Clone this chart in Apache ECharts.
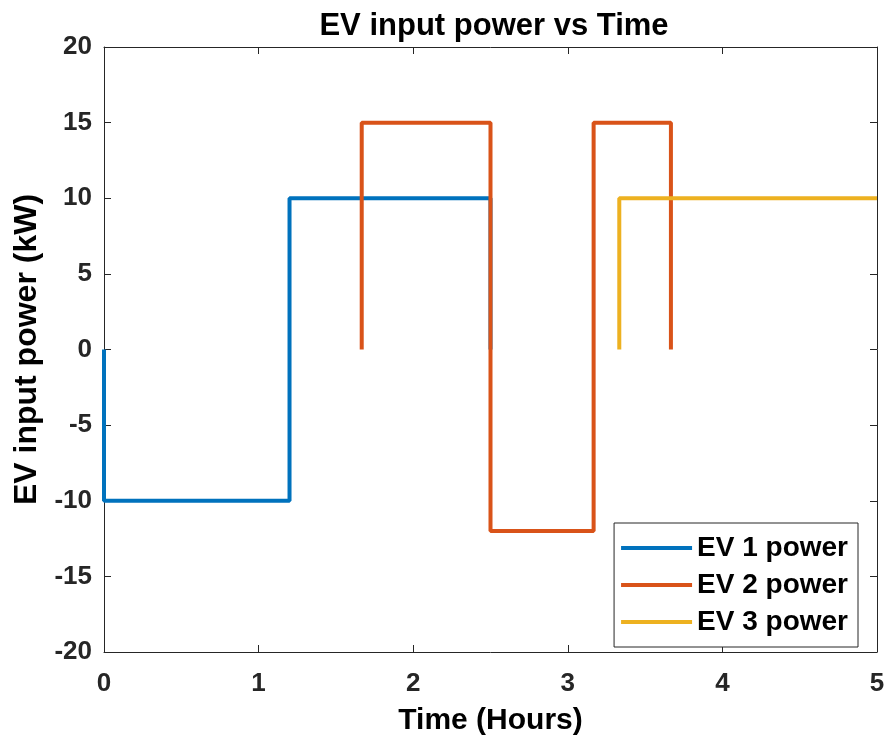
<!DOCTYPE html>
<html><head><meta charset="utf-8">
<script src="https://cdn.jsdelivr.net/npm/echarts@6/dist/echarts.min.js"></script>
<style>html,body{margin:0;padding:0;background:#fff}#c{width:890px;height:745px}</style>
</head><body><div id="c"></div>
<script>
const seriesNames = ['EV 1 power', 'EV 2 power', 'EV 3 power'];
const ev1 = [[0,0],[0,-10],[1.2,-10],[1.2,10],[2.5,10],[2.5,0]];
const ev2 = [[1.667,0],[1.667,15],[2.5,15],[2.5,-12],[3.167,-12],[3.167,15],[3.667,15],[3.667,0]];
const ev3 = [[3.333,0],[3.333,10],[5,10]];
const colors = ['#0072BD', '#D95319', '#EDB120'];
const xTicks = [0,1,2,3,4,5];
const yTicks = [-20,-15,-10,-5,0,5,10,15,20];

const font = '"Liberation Sans", Arial, Helvetica, sans-serif';
const axisCol = '#262626';
const chart = echarts.init(document.getElementById('c'), null, {renderer:'canvas'});
const baseX = {type:'value', min:xTicks[0], max:xTicks[xTicks.length-1], interval:1,
  axisLine:{show:true, onZero:false, lineStyle:{color:axisCol, width:1}},
  axisTick:{show:true, inside:true, length:7, lineStyle:{color:axisCol}},
  splitLine:{show:false}};
const baseY = {type:'value', min:yTicks[0], max:yTicks[yTicks.length-1], interval:5,
  axisLine:{show:true, onZero:false, lineStyle:{color:axisCol, width:1}},
  axisTick:{show:true, inside:true, length:7, lineStyle:{color:axisCol}},
  splitLine:{show:false}};
const option = {
  backgroundColor:'#fff',
  animation:false,
  title:{text:'EV input power vs Time', left:489, top:6, textAlign:'center',
    textStyle:{fontFamily:font, fontWeight:'bold', fontSize:31, color:'#000'}},
  grid:{left:104, right:13, top:47, bottom:93, containLabel:false},
  xAxis:[
    Object.assign({}, baseX, {position:'bottom', name:'Time (Hours)', nameLocation:'middle', nameGap:54,
      nameTextStyle:{fontFamily:font, fontWeight:'bold', fontSize:30, color:'#000'},
      axisLabel:{fontFamily:font, fontWeight:'bold', fontSize:26, color:'#262626', margin:19}}),
    Object.assign({}, baseX, {position:'top', axisLabel:{show:false}})
  ],
  yAxis:[
    Object.assign({}, baseY, {position:'left', name:'EV input power (kW)', nameLocation:'middle', nameGap:59,
      nameTextStyle:{fontFamily:font, fontWeight:'bold', fontSize:32, color:'#000'},
      axisLabel:{fontFamily:font, fontWeight:'bold', fontSize:26, color:'#262626', margin:12}}),
    Object.assign({}, baseY, {position:'right', axisLabel:{show:false}})
  ],
  legend:{orient:'vertical', right:32, top:523, backgroundColor:'#fff',
    borderColor:axisCol, borderWidth:1, padding:[11,10,11,7], itemGap:9,
    itemWidth:71, itemHeight:4, icon:'rect',
    textStyle:{fontFamily:font, fontWeight:'bold', fontSize:28, color:'#000'},
    data:seriesNames},
  series:[ev1, ev2, ev3].map((d,i)=>({
    name:seriesNames[i], type:'line', data:d, symbol:'none', showSymbol:false,
    xAxisIndex:0, yAxisIndex:0,
    lineStyle:{color:colors[i], width:4}, itemStyle:{color:colors[i]}, z:2+i
  }))
};
chart.setOption(option);
</script></body></html>
